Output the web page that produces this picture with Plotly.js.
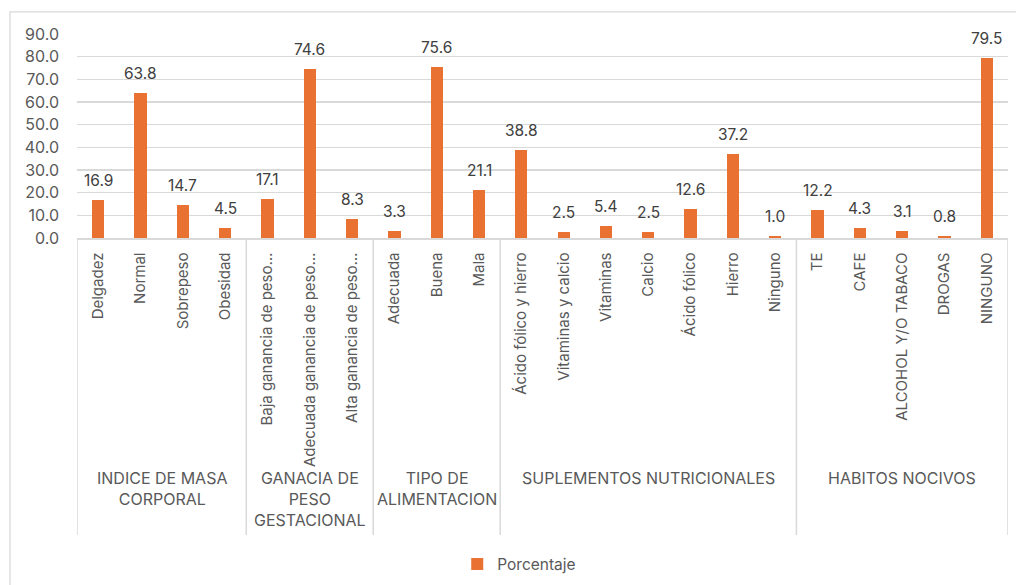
<!DOCTYPE html>
<html>
<head>
<meta charset="utf-8">
<script src="https://cdn.plot.ly/plotly-3.0.1.min.js"></script>
<style>
  html, body { margin: 0; padding: 0; background: #ffffff; }
  #chart { width: 1016px; height: 585px; }
</style>
</head>
<body>
<div id="chart"></div>
<script>
// ---- Data ----
const groupNames = [
  'INDICE DE MASA<br>CORPORAL',
  'GANACIA DE<br>PESO<br>GESTACIONAL',
  'TIPO DE<br>ALIMENTACION',
  'SUPLEMENTOS NUTRICIONALES',
  'HABITOS NOCIVOS'
];
const imcCategories = ['Delgadez', 'Normal', 'Sobrepeso', 'Obesidad'];
const imcValues = [16.9, 63.8, 14.7, 4.5];
const gananciaCategories = ['Baja ganancia de peso…', 'Adecuada ganancia de peso…', 'Alta ganancia de peso…'];
const gananciaValues = [17.1, 74.6, 8.3];
const alimentacionCategories = ['Adecuada', 'Buena', 'Mala'];
const alimentacionValues = [3.3, 75.6, 21.1];
const suplementosCategories = ['Ácido fólico y hierro', 'Vitaminas y calcio', 'Vitaminas', 'Calcio', 'Ácido fólico', 'Hierro', 'Ninguno'];
const suplementosValues = [38.8, 2.5, 5.4, 2.5, 12.6, 37.2, 1.0];
const habitosCategories = ['TE', 'CAFE', 'ALCOHOL Y/O TABACO', 'DROGAS', 'NINGUNO'];
const habitosValues = [12.2, 4.3, 3.1, 0.8, 79.5];
const seriesName = 'Porcentaje';

// ---- Build ----
const groupCats = [imcCategories, gananciaCategories, alimentacionCategories, suplementosCategories, habitosCategories];
const groupVals = [imcValues, gananciaValues, alimentacionValues, suplementosValues, habitosValues];

const categories = [].concat(...groupCats);
const values = [].concat(...groupVals);
const xs = categories.map((_, i) => i);

const FONT = 'Inter, "Liberation Sans", Arial, sans-serif';
const GRID = '#d9d9d9';
const TXT = '#595959';

const shapes = [];
const annotations = [];

// group separators and group labels
let start = 0;
const bounds = [-0.5];
groupCats.forEach((cats, g) => {
  const end = start + cats.length;
  bounds.push(end - 0.5);
  annotations.push({
    xref: 'x', yref: 'paper',
    x: (start + end - 1) / 2, y: -1.12,
    xanchor: 'center', yanchor: 'top',
    text: groupNames[g], showarrow: false,
    font: {family: FONT, size: 16, color: TXT},
    align: 'center'
  });
  start = end;
});
bounds.forEach(b => {
  shapes.push({
    type: 'line', xref: 'x', yref: 'paper',
    x0: b, x1: b, y0: 0, y1: -1.456,
    line: {color: GRID, width: 1.5}
  });
});

// outer chart border
shapes.push({
  type: 'rect', xref: 'paper', yref: 'paper',
  x0: -0.072, x1: 1.05, y0: -1.9, y1: 1.108,
  line: {color: GRID, width: 1.3}, fillcolor: 'rgba(0,0,0,0)', layer: 'below'
});

// data labels
values.forEach((v, i) => {
  annotations.push({
    xref: 'x', yref: 'y', x: xs[i], y: v,
    xanchor: 'center', yanchor: 'bottom', yshift: 8,
    text: v.toFixed(1), showarrow: false,
    font: {family: FONT, size: 15.5, color: '#404040'}
  });
});

const trace = {
  type: 'bar',
  x: xs,
  y: values,
  name: seriesName,
  width: 0.29,
  marker: {color: '#E97132'},
  hoverinfo: 'none'
};

const layout = {
  width: 1016, height: 585,
  margin: {l: 77, r: 8, t: 34, b: 347, autoexpand: false},
  paper_bgcolor: '#ffffff', plot_bgcolor: '#ffffff',
  font: {family: FONT, size: 15, color: TXT},
  bargap: 0,
  showlegend: true,
  legend: {
    orientation: 'h', x: 0.475, xanchor: 'center', y: -1.60, yanchor: 'middle',
    itemwidth: 30,
    font: {family: FONT, size: 15.5, color: TXT}
  },
  xaxis: {
    range: [-0.5, categories.length - 0.5],
    tickvals: xs, ticktext: categories,
    tickangle: -90,
    ticks: '', ticklabelstandoff: 7,
    showgrid: false, zeroline: false,
    showline: true, linecolor: GRID, linewidth: 1.5,
    tickfont: {family: FONT, size: 15, color: TXT},
    automargin: false,
    fixedrange: true
  },
  yaxis: {
    range: [0, 90], dtick: 10, tick0: 0,
    tickformat: '.1f',
    ticks: '', ticklabelstandoff: 17,
    showgrid: true, gridcolor: GRID, gridwidth: 1.3,
    zeroline: false, showline: false,
    tickfont: {family: FONT, size: 16, color: TXT},
    automargin: false,
    fixedrange: true
  },
  shapes: shapes,
  annotations: annotations
};

Plotly.newPlot('chart', [trace], layout, {displayModeBar: false, staticPlot: true});
</script>
</body>
</html>
